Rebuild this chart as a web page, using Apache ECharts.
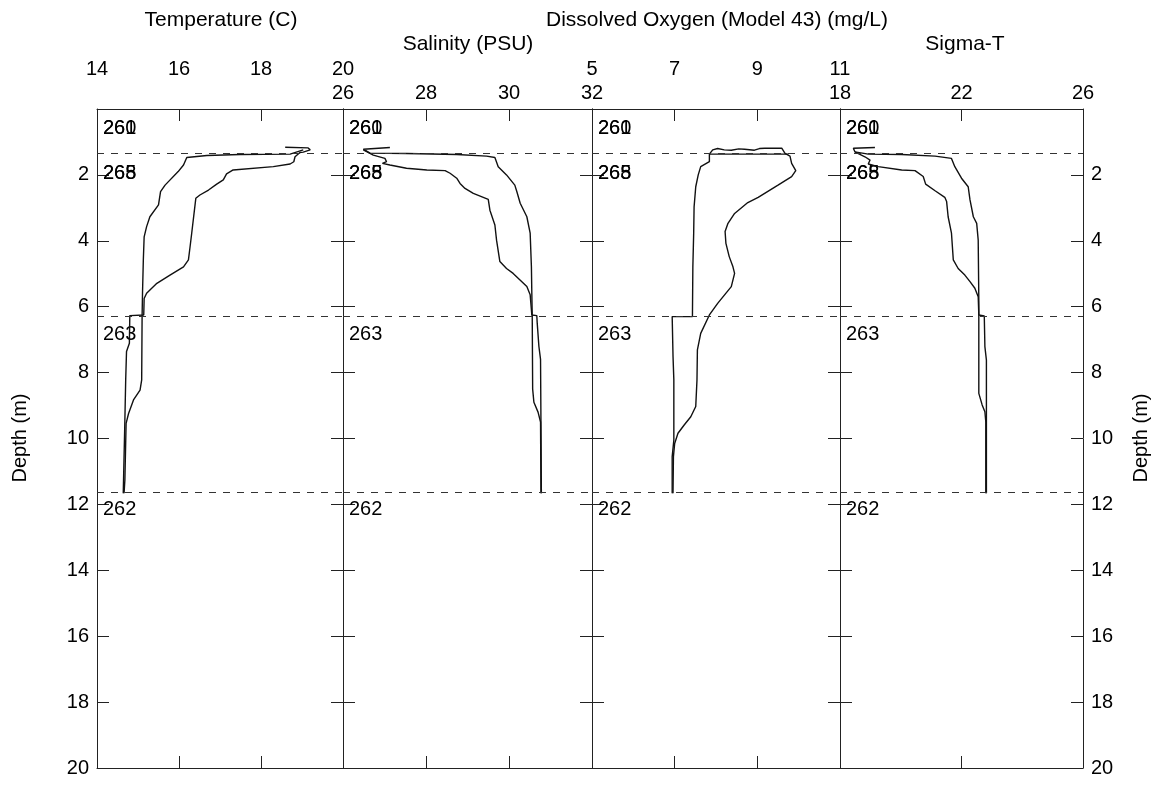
<!DOCTYPE html>
<html>
<head>
<meta charset="utf-8">
<script src="https://cdn.jsdelivr.net/npm/echarts@6/dist/echarts.min.js"></script>
<style>html,body{margin:0;padding:0;background:#fff}#c{width:1155px;height:786px}</style>
</head>
<body>
<div id="c"></div>
<script>
// ---- data ----
const panelTitles = ['Temperature (C)', 'Salinity (PSU)', 'Dissolved Oxygen (Model 43) (mg/L)', 'Sigma-T'];
const tempTicks = [14, 16, 18, 20];
const salTicks = [26, 28, 30, 32];
const doTicks = [5, 7, 9, 11];
const sigTicks = [18, 22, 26];
const depthTicks = [0, 2, 4, 6, 8, 10, 12, 14, 16, 18, 20];
const dashedDepths = [1.33, 6.28, 11.63];
const stationLabels = ['260', '261', '265', '268', '263', '262'];
const stationDepths = [0.58, 0.58, 1.97, 1.97, 6.84, 12.15];

// [value, depth]
const tempCastA = [[18.59,1.16],[19.15,1.18],[19.20,1.24],[19.03,1.31],[18.95,1.32],[18.83,1.45],[18.80,1.60],[18.71,1.67],[18.30,1.75],[17.32,1.85],[17.16,1.97],[17.08,2.15],[16.92,2.28],[16.72,2.46],[16.51,2.61],[16.41,2.71],[16.39,2.76],[16.31,3.77],[16.27,4.18],[16.23,4.58],[16.11,4.79],[15.78,5.04],[15.46,5.29],[15.21,5.59],[15.15,5.75],[15.14,6.25],[14.80,6.27],[14.80,6.30],[14.79,7.11],[14.72,7.36],[14.70,8.22],[14.68,9.44],[14.64,11.66]];
const tempCastB = [[19.03,1.24],[18.71,1.37],[17.49,1.38],[16.68,1.41],[16.19,1.47],[16.11,1.70],[15.98,1.90],[15.66,2.31],[15.55,2.51],[15.50,2.91],[15.29,3.27],[15.21,3.57],[15.15,3.88],[15.13,4.58],[15.11,5.59],[15.10,6.30],[15.09,8.22],[15.05,8.53],[14.89,8.83],[14.77,9.24],[14.71,9.54],[14.68,11.26],[14.66,11.66]];

const salCastA = [[26.49,1.24],[26.73,1.40],[27.01,1.50],[27.05,1.60],[26.95,1.65],[27.13,1.70],[27.53,1.80],[28.02,1.85],[28.46,1.87],[28.58,1.95],[28.74,2.10],[28.82,2.26],[28.94,2.41],[29.14,2.56],[29.50,2.74],[29.54,3.07],[29.66,3.52],[29.70,3.98],[29.78,4.63],[29.94,4.84],[30.10,4.99],[30.31,5.24],[30.43,5.39],[30.51,5.64],[30.55,6.25],[30.67,6.27],[30.68,6.50],[30.72,7.20],[30.76,7.60],[30.77,9.50],[30.78,11.66]];
const salCastB = [[27.13,1.17],[26.49,1.22],[26.45,1.28],[26.65,1.34],[27.53,1.35],[28.74,1.38],[29.46,1.43],[29.66,1.47],[29.74,1.75],[29.94,2.00],[30.14,2.31],[30.19,2.51],[30.27,2.86],[30.43,3.27],[30.51,3.77],[30.54,4.79],[30.55,5.59],[30.56,6.30],[30.57,8.50],[30.60,8.90],[30.70,9.20],[30.76,9.50],[30.77,11.66]];

const doCastA = [[9.75,1.37],[7.84,1.37],[7.84,1.60],[7.63,1.75],[7.57,2.00],[7.51,2.36],[7.47,2.97],[7.46,3.77],[7.44,4.79],[7.43,6.30],[6.94,6.30],[6.96,7.50],[6.98,8.22],[6.98,10.05],[6.94,10.55],[6.94,11.66]];
const doCastB = [[7.84,1.37],[7.92,1.24],[8.04,1.20],[8.20,1.24],[8.37,1.25],[8.55,1.21],[8.69,1.22],[8.93,1.25],[9.05,1.20],[9.18,1.19],[9.40,1.19],[9.59,1.19],[9.67,1.35],[9.79,1.43],[9.83,1.65],[9.93,1.87],[9.83,2.05],[9.50,2.31],[9.02,2.68],[8.77,2.84],[8.45,3.17],[8.29,3.47],[8.22,3.72],[8.24,4.08],[8.32,4.48],[8.41,4.79],[8.45,4.99],[8.37,5.39],[8.04,5.90],[7.84,6.25],[7.80,6.30],[7.63,6.81],[7.55,7.31],[7.54,8.22],[7.51,9.03],[7.39,9.34],[7.23,9.59],[7.08,9.84],[7.00,10.15],[6.97,10.55],[6.96,11.66]];

const sigCastA = [[18.49,1.30],[18.82,1.45],[18.99,1.55],[18.93,1.67],[19.26,1.75],[20.03,1.85],[20.47,1.87],[20.74,2.05],[20.82,2.28],[21.13,2.48],[21.45,2.68],[21.51,2.81],[21.56,3.27],[21.67,3.77],[21.73,4.58],[21.89,4.84],[22.11,5.04],[22.28,5.24],[22.44,5.44],[22.55,5.70],[22.57,6.25],[22.75,6.28],[22.77,7.21],[22.82,7.62],[22.82,11.66]];
const sigCastB = [[19.15,1.17],[18.44,1.19],[18.49,1.30],[18.93,1.37],[20.03,1.38],[21.13,1.43],[21.67,1.50],[21.78,1.75],[22.00,2.10],[22.22,2.36],[22.28,2.76],[22.39,3.27],[22.50,3.47],[22.55,3.98],[22.57,5.80],[22.57,6.30],[22.57,8.63],[22.68,8.98],[22.77,9.19],[22.80,9.50],[22.80,11.66]];

// ---- layout ----
const FONT = '"Liberation Sans", Arial, sans-serif';
const panels = [
  {ticks: tempTicks, casts: [tempCastA, tempCastB], left: 97, width: 246, labelMargin: 30},
  {ticks: salTicks, casts: [salCastA, salCastB], left: 343, width: 249, labelMargin: 6},
  {ticks: doTicks, casts: [doCastA, doCastB], left: 592, width: 248, labelMargin: 30},
  {ticks: sigTicks, casts: [sigCastA, sigCastB], left: 840, width: 243, labelMargin: 6}
];
const TOP = 109, HEIGHT = 659;
const lineCol = '#222';

const grid = [], xAxis = [], yAxis = [], series = [];
panels.forEach((p, i) => {
  grid.push({left: p.left, width: p.width, top: TOP, height: HEIGHT, show: false, containLabel: false});
  const xmin = p.ticks[0], xmax = p.ticks[p.ticks.length - 1];
  const common = {type: 'value', gridIndex: i, min: xmin, max: xmax,
    axisLine: {show: true, onZero: false, lineStyle: {color: lineCol, width: 1}},
    axisTick: {show: true, inside: true, length: 12, customValues: p.ticks, lineStyle: {color: lineCol, width: 1}},
    splitLine: {show: false}};
  xAxis.push(Object.assign({}, common, {position: 'top',
    axisLabel: {show: true, customValues: p.ticks, showMinLabel: true, showMaxLabel: true, margin: p.labelMargin,
      color: '#000', fontSize: 20, fontFamily: FONT}}));
  xAxis.push(Object.assign({}, common, {position: 'bottom', axisLabel: {show: false}}));
  const ycommon = {type: 'value', gridIndex: i, min: 0, max: 20, interval: 2, inverse: true,
    axisLine: {show: true, onZero: false, lineStyle: {color: lineCol, width: 1}},
    axisTick: {show: true, inside: true, length: 12, lineStyle: {color: lineCol, width: 1}},
    splitLine: {show: false}};
  yAxis.push(Object.assign({}, ycommon, {position: 'left',
    axisLabel: {show: i === 0, showMinLabel: false, showMaxLabel: true, margin: 8, color: '#000', fontSize: 20, fontFamily: FONT}}));
  yAxis.push(Object.assign({}, ycommon, {position: 'right',
    axisLabel: {show: i === 3, showMinLabel: false, showMaxLabel: true, margin: 8, color: '#000', fontSize: 20, fontFamily: FONT}}));

  p.casts.forEach((c, k) => {
    const s = {type: 'line', xAxisIndex: 2 * i, yAxisIndex: 2 * i, data: c, showSymbol: false, symbol: 'none',
      silent: true, animation: false, clip: true,
      lineStyle: {color: '#111', width: 1.4}};
    if (k === 1) {
      s.markLine = {silent: true, symbol: 'none', animation: false, label: {show: false},
        lineStyle: {type: [7, 7], color: '#333', width: 1},
        data: dashedDepths.map(d => ({yAxis: d}))};
    }
    series.push(s);
  });
  series.push({type: 'scatter', xAxisIndex: 2 * i, yAxisIndex: 2 * i, symbolSize: 0, silent: true, animation: false,
    itemStyle: {opacity: 1},
    data: stationLabels.map((t, j) => ({name: t, value: [xmin, stationDepths[j]]})),
    label: {show: true, position: 'right', distance: 6, formatter: '{b}', color: '#000', opacity: 1, fontSize: 20, fontFamily: FONT}});
});

const titleText = (txt, x, y) => ({type: 'text', x: x, y: y, silent: true,
  style: {text: txt, font: '21px ' + FONT, fill: '#000', align: 'center', verticalAlign: 'middle'}});

const graphic = [
  titleText(panelTitles[0], 221, 20),
  titleText(panelTitles[1], 468, 44),
  titleText(panelTitles[2], 717, 20),
  titleText(panelTitles[3], 965, 44),
  {type: 'text', x: 20, y: 438, rotation: Math.PI / 2, silent: true,
    style: {text: 'Depth (m)', font: '20px ' + FONT, fill: '#000', align: 'center', verticalAlign: 'middle'}},
  {type: 'text', x: 1141, y: 438, rotation: Math.PI / 2, silent: true,
    style: {text: 'Depth (m)', font: '20px ' + FONT, fill: '#000', align: 'center', verticalAlign: 'middle'}}
];

const chart = echarts.init(document.getElementById('c'), null, {renderer: 'canvas'});
chart.setOption({animation: false, backgroundColor: '#fff', grid, xAxis, yAxis, series, graphic});
</script>
</body>
</html>
